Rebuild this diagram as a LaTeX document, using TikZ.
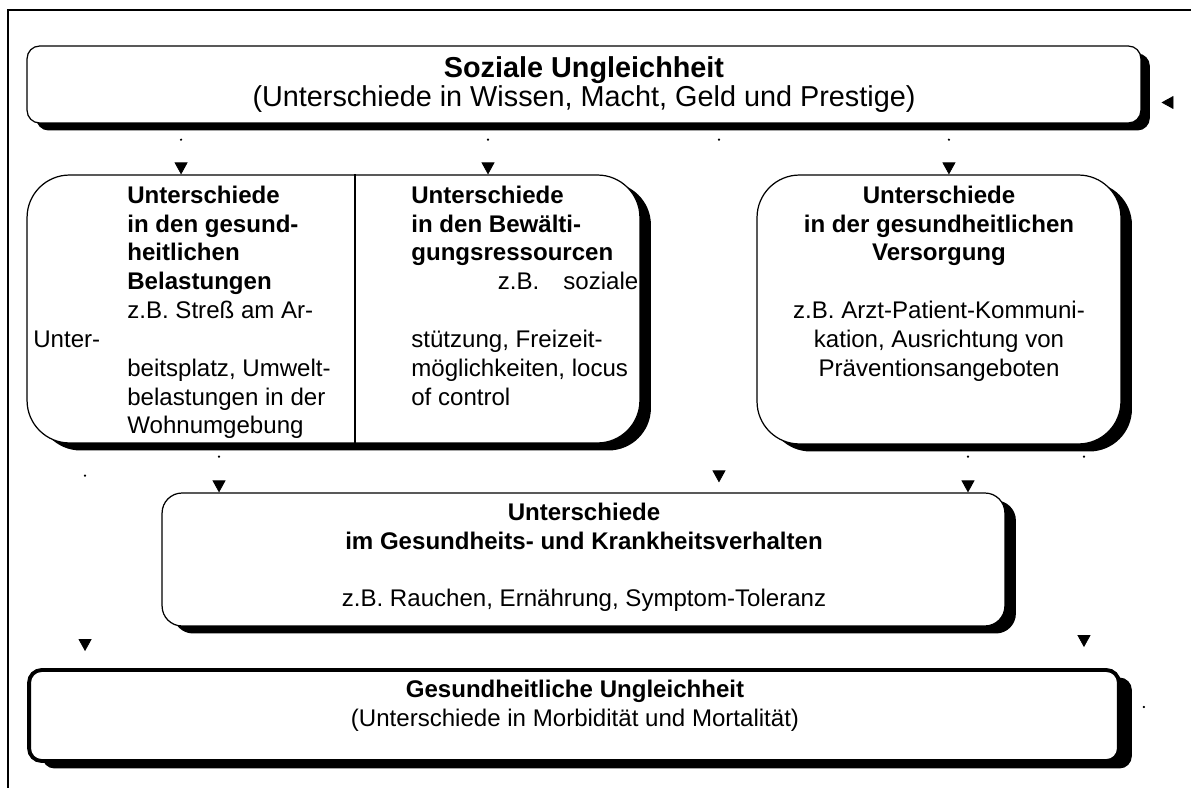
\documentclass[tikz,border=0pt]{standalone}
\usepackage{fontspec}
\setmainfont{Liberation Sans}
\usetikzlibrary{arrows.meta, shadows}

\newcommand{\grund}{\fontsize{13.7}{16.4}\selectfont}

\begin{document}
\begin{tikzpicture}[
    x=0.02cm, y=-0.02cm,
    font=\grund,
    box/.style={draw, fill=white, line width=0.7pt, inner sep=0pt},
    shade/.style={drop shadow={fill=black, opacity=1, shadow xshift=#1, shadow yshift=-0.15cm}},
    shade/.default=0.22cm,
    txt/.style={inner sep=0pt, anchor=north},
    link/.style={draw=white,
      {Circle[length=1.2pt, color=black, fill=black]}-{Triangle[length=6.8pt, width=7.4pt, color=black, fill=black]}},
    frame/.style={line width=0.85pt},
  ]
  \useasboundingbox (0,0) rectangle (1191,788);
  \draw[frame] (8,788) -- (8,10) -- (1191,10);

  % Kaesten
  \node[box, shade=0.18cm, rounded corners=0.25cm, minimum width=22.28cm, minimum height=1.54cm,
        align=center, font=\fontsize{16.4}{14.7}\selectfont] (soz) at (584,84.5)
    {\textbf{Soziale Ungleichheit}\\(Unterschiede in Wissen, Macht, Geld und Prestige)};
  \node[box, shade, rounded corners=0.85cm, minimum width=12.26cm, minimum height=5.36cm] (res) at (333.5,309) {};
  \draw[line width=0.7pt] ([xshift=0.43cm]res.north) -- ([xshift=0.43cm]res.south);
  \node[box, shade, rounded corners=0.85cm, minimum width=7.28cm, minimum height=5.38cm] (vers) at (939,309.5) {};
  \node[box, shade, rounded corners=0.4cm, minimum width=16.86cm, minimum height=2.66cm] (verh) at (583.5,559.5) {};
  \node[box, line width=2.2pt, shade=0.26cm, rounded corners=0.25cm, minimum width=21.8cm, minimum height=1.82cm] (ungl) at (574,715.5) {};

  % Texte
  \node[txt, anchor=north west, align=left] (belast) at (127,182.8)
    {\strut\textbf{Unterschiede}\\
     \textbf{in den gesund-}\\
     \textbf{heitlichen}\\
     \textbf{Belastungen}\\
     z.B. Streß am Ar-\\
     \llap{\makebox[1.88cm][l]{Unter-}}\\
     beitsplatz, Umwelt-\\
     belastungen in der\\
     Wohnumgebung};
  \node[txt, anchor=north west, align=left] (bewaelt) at (411,182.8)
    {\strut\textbf{Unterschiede}\\
     \textbf{in den Bewälti-}\\
     \textbf{gungsressourcen}\\
     \makebox[4.54cm][r]{z.B.\quad soziale}\\
     \mbox{}\\
     stützung, Freizeit-\\
     möglichkeiten, locus\\
     of control};
  \node[txt, align=center] (versorg) at (939,182.8)
    {\strut\textbf{Unterschiede}\\
     \textbf{in der gesundheitlichen}\\
     \textbf{Versorgung}\\
     \mbox{}\\
     z.B. Arzt-Patient-Kommuni-\\
     kation, Ausrichtung von\\
     Präventionsangeboten};
  \node[txt, align=center] (verhalt) at (584,499.8)
    {\strut\textbf{Unterschiede}\\
     \textbf{im Gesundheits- und Krankheitsverhalten}\\
     \mbox{}\\
     z.B. Rauchen, Ernährung, Symptom-Toleranz};
  \node[txt, align=center] (gesund) at (575,676.8)
    {\strut\textbf{Gesundheitliche Ungleichheit}\\
     (Unterschiede in Morbidität und Mortalität)};

  % Verbindungen
  \draw[link, shorten <=0.3cm] ([xshift=-8.06cm]soz.south) -- ([xshift=-8.06cm]soz.south |- res.north);
  \draw[link, shorten <=0.3cm] ([xshift=-1.92cm]soz.south) -- ([xshift=-1.92cm]soz.south |- res.north);
  \draw[link, shorten <=0.3cm, shorten >=0.2cm] ([xshift=2.7cm]soz.south) -- ([xshift=2.7cm]soz.south |- verh.north);
  \draw[link, shorten <=0.3cm] ([xshift=7.3cm]soz.south) -- ([xshift=7.3cm]soz.south |- vers.north);
  \draw[link, shorten <=0.24cm] ([xshift=-2.29cm]res.south) -- ([xshift=-2.29cm]res.south |- verh.north);
  \draw[link, shorten <=0.62cm, shorten >=0.34cm] ([xshift=-4.97cm]res.south) -- ([xshift=-4.97cm]res.south |- ungl.north);
  \draw[link, shorten <=0.22cm] ([xshift=0.58cm]vers.south) -- ([xshift=0.58cm]vers.south |- verh.north);
  \draw[link, shorten <=0.22cm, shorten >=0.42cm] ([xshift=2.9cm]vers.south) -- ([xshift=2.9cm]vers.south |- ungl.north);
  \draw[link, shorten <=0.44cm, shorten >=0.4cm] ([yshift=0.17cm]ungl.east) -- ++(1.22cm,0) |- ([yshift=-0.36cm]soz.east);
\end{tikzpicture}
\end{document}
